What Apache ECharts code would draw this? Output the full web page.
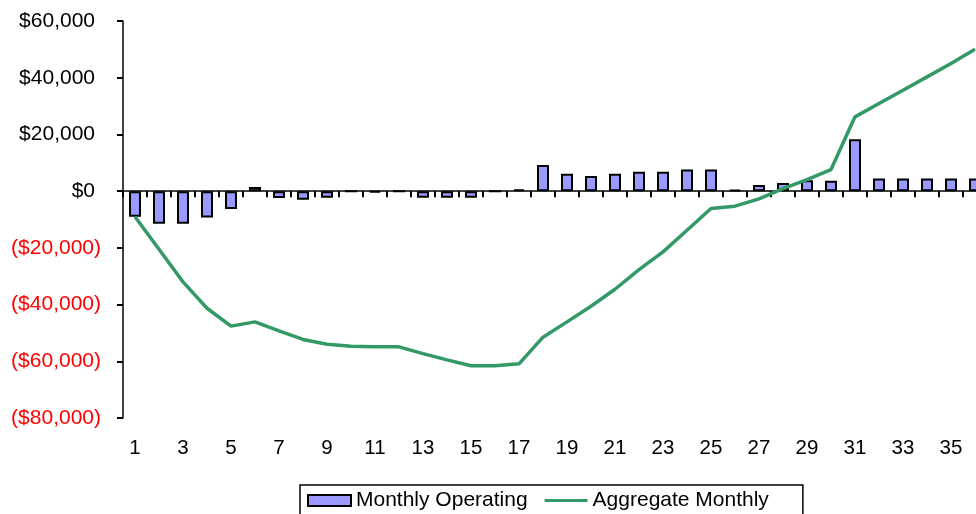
<!DOCTYPE html>
<html>
<head>
<meta charset="utf-8">
<script src="https://cdn.jsdelivr.net/npm/echarts@6/dist/echarts.min.js"></script>
<style>
  html, body { margin: 0; padding: 0; background: #fff; overflow: hidden; }
  #chart { width: 990px; height: 530px; }
</style>
</head>
<body>
<div id="chart"></div>
<script>
const months = ['1', '2', '3', '4', '5', '6', '7', '8', '9', '10', '11', '12',
  '13', '14', '15', '16', '17', '18', '19', '20', '21', '22', '23', '24',
  '25', '26', '27', '28', '29', '30', '31', '32', '33', '34', '35', '36']

const monthlyOperating = [-9000, -11500, -11500, -9300, -6300, 1500, -2400, -3000, -2300, 0, -500, 0,
  -2300, -2300, -2300, 0, 700, 9200, 6100, 5300, 6100, 6800, 6800, 7600,
  7600, 500, 2200, 2900, 3800, 3700, 18300, 4500, 4500, 4500, 4500, 4500]

const aggregateMonthly = [-9000, -20500, -32000, -41300, -47600, -46100, -49300, -52300, -54000, -54700, -54900, -54900,
  -57300, -59500, -61600, -61600, -60900, -51500, -46100, -40600, -34600, -27700, -21400, -13800,
  -6100, -5300, -2700, 900, 4100, 7600, 26200, 30900, 35600, 40300, 45000, 50000]

const FONT = '"Liberation Sans", Arial, sans-serif'

// accounting style: negatives in red parentheses, positives padded for the ")"
const money = (v) => {
  const s = '$' + Math.abs(v).toLocaleString('en-US')
  return v < 0 ? '{n|(' + s + ')}' : '{p|' + s + '}'
}

const chart = echarts.init(document.getElementById('chart'))

const option = {
  animation: false,
  textStyle: { fontFamily: FONT },
  grid: {
    left: 123,
    top: 21,
    width: 864,
    height: 397,
    containLabel: false
  },
  legend: {
    left: 300,
    top: 485,
    padding: [5, 34, 14, 7],
    borderColor: '#000',
    borderWidth: 1.5,
    itemWidth: 43,
    itemHeight: 11,
    itemGap: 17,
    textStyle: { fontSize: 21, color: '#000', fontFamily: FONT },
    data: [
      { name: 'Monthly Operating', icon: 'rect' },
      { name: 'Aggregate Monthly', icon: 'path://M0,0H160V11H0Z' }
    ]
  },
  xAxis: [
    {
      type: 'category',
      data: months,
      boundaryGap: true,
      axisLine: { onZero: true, lineStyle: { color: '#000', width: 1.5 } },
      axisTick: { show: true, inside: false, length: 6, interval: 0, lineStyle: { color: '#000', width: 2 } },
      axisLabel: { show: false },
      splitLine: { show: false }
    },
    {
      type: 'category',
      data: months,
      position: 'bottom',
      boundaryGap: true,
      axisLine: { show: false, onZero: false },
      axisTick: { show: false },
      axisLabel: { interval: 1, margin: 20, fontSize: 20.5, color: '#000', fontFamily: FONT },
      splitLine: { show: false }
    }
  ],
  yAxis: {
    type: 'value',
    min: -80000,
    max: 60000,
    interval: 20000,
    axisLine: { show: true, lineStyle: { color: '#000', width: 1.5 } },
    axisTick: { show: true, inside: false, length: 6, lineStyle: { color: '#000', width: 2 } },
    axisLabel: {
      margin: 22,
      fontSize: 21,
      fontFamily: FONT,
      formatter: money,
      rich: {
        p: { color: '#000', fontSize: 21, fontFamily: FONT, padding: [0, 6, 0, 0] },
        n: { color: '#ff0000', fontSize: 21, fontFamily: FONT }
      }
    },
    splitLine: { show: false }
  },
  series: [
    {
      name: 'Monthly Operating',
      type: 'bar',
      xAxisIndex: 0,
      barWidth: 12,
      itemStyle: { color: '#9999ff', borderColor: '#000', borderWidth: 2 },
      data: monthlyOperating
    },
    {
      name: 'Aggregate Monthly',
      type: 'line',
      xAxisIndex: 0,
      symbol: 'none',
      lineStyle: { color: '#339966', width: 3.5 },
      itemStyle: { color: '#339966' },
      z: 5,
      data: aggregateMonthly
    }
  ]
}

chart.setOption(option)
</script>
</body>
</html>
